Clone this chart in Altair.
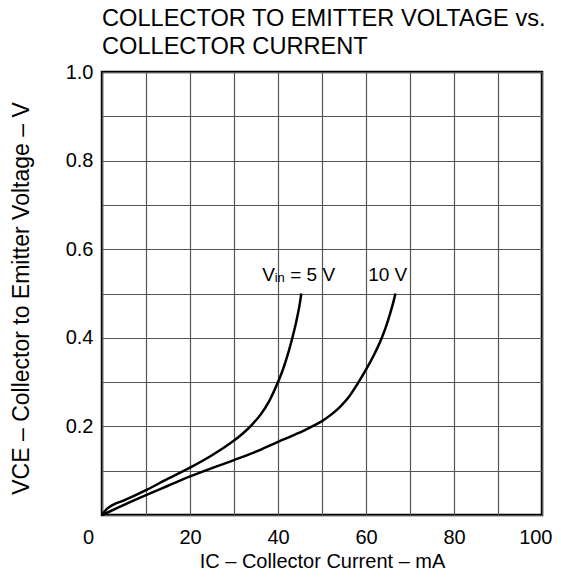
import altair as alt
import pandas as pd

# Curve data
ic_5v = [0, 1, 2.5, 5, 10, 15, 20, 25, 28, 30, 32, 34, 36, 38, 40, 41, 42, 43, 44, 45, 45.3]
vce_5v = [0, 0.013, 0.023, 0.033, 0.056, 0.082, 0.107, 0.135, 0.154, 0.168, 0.184, 0.203,
          0.226, 0.257, 0.30, 0.325, 0.355, 0.39, 0.43, 0.48, 0.50]
ic_10v = [0, 2, 5, 10, 15, 20, 25, 30, 35, 40, 44, 46, 48, 50, 52, 54, 56, 58, 60, 62,
          63.6, 64.5, 65.5, 66.2, 66.7]
vce_10v = [0, 0.009, 0.023, 0.045, 0.066, 0.087, 0.106, 0.124, 0.143, 0.165, 0.182, 0.191,
           0.201, 0.212, 0.226, 0.243, 0.265, 0.295, 0.328, 0.365, 0.40, 0.424, 0.455, 0.48, 0.50]

x_ticks = [0, 10, 20, 30, 40, 50, 60, 70, 80, 90, 100]
y_ticks = [0, 0.1, 0.2, 0.3, 0.4, 0.5, 0.6, 0.7, 0.8, 0.9, 1.0]

label_x = [36.4, 60.5]
label_y = [0.528, 0.528]

FONT = "Liberation Sans"

curves = pd.DataFrame(
    {"ic": ic_5v + ic_10v,
     "vce": vce_5v + vce_10v,
     "series": ["5 V"] * len(ic_5v) + ["10 V"] * len(ic_10v)}
)

xscale = alt.Scale(domain=[0, 100], nice=False, zero=False)
yscale = alt.Scale(domain=[0, 1], nice=False, zero=False)

xaxis = alt.Axis(
    values=x_ticks,
    title="IC – Collector Current – mA",
    labelExpr="datum.value % 20 === 0 ? datum.label : ''",
    labelOffset={"condition": [
        {"test": "datum.value === 0", "value": -14},
        {"test": "datum.value === 100", "value": 10},
    ], "value": 0},
    labelAlign={"condition": {"test": "datum.value === 100", "value": "right"}, "value": "center"},
    labelFlush=False, labelOverlap=False,
    ticks=False, tickSize=0, domain=False,
    grid=True, gridColor="#555555", gridWidth=1.2, gridOpacity=1,
    labelFont=FONT, labelFontSize=20, labelColor="black", labelPadding=12,
    titleFont=FONT, titleFontSize=20, titleFontWeight="normal", titleColor="black",
    titlePadding=4,
)
yaxis = alt.Axis(
    values=y_ticks,
    format=".1f",
    title="VCE – Collector to Emitter Voltage – V",
    labelExpr="(datum.value > 0.15 && round(datum.value * 10) % 2 === 0) ? datum.label : ''",
    labelFlush=False, labelOverlap=False,
    ticks=False, tickSize=0, domain=False,
    grid=True, gridColor="#555555", gridWidth=1.2, gridOpacity=1,
    labelFont=FONT, labelFontSize=20, labelColor="black", labelPadding=9,
    titleFont=FONT, titleFontSize=23, titleFontWeight="normal", titleColor="black",
    titlePadding=32, titleY=226,
)

lines = alt.Chart(curves).mark_line(
    color="black", strokeWidth=2.5, interpolate="monotone"
).encode(
    x=alt.X("ic:Q", scale=xscale, axis=xaxis),
    y=alt.Y("vce:Q", scale=yscale, axis=yaxis),
    detail="series:N",
    order="ic:Q",
)

lab = pd.DataFrame({"ic": label_x, "vce": label_y})
lab5 = lab.iloc[[0]]
lab10 = lab.iloc[[1]]

def txt(df, text, size, dx=0, dy=0):
    return alt.Chart(df).mark_text(
        text=text, font=FONT, fontSize=size, color="black",
        align="left", baseline="alphabetic", dx=dx, dy=dy,
    ).encode(
        x=alt.X("ic:Q", scale=xscale, axis=xaxis),
        y=alt.Y("vce:Q", scale=yscale, axis=yaxis),
    )

t_v = txt(lab5, "V", 19)
t_in = txt(lab5, "in", 13, dx=12.5, dy=1)
t_eq = txt(lab5, "= 5 V", 19, dx=28)
t_10 = txt(lab10, "10 V", 19)

chart = alt.layer(lines, t_v, t_in, t_eq, t_10).properties(
    width=440,
    height=443,
    title=alt.Title(
        text=["COLLECTOR TO EMITTER VOLTAGE vs.", "COLLECTOR CURRENT"],
        anchor="start", frame="group", font=FONT, fontSize=23.6,
        fontWeight="normal", color="black", lineHeight=28, offset=3,
    ),
    autosize=alt.AutoSizeParams(type="none"),
    padding={"left": 94, "top": 64, "right": 11, "bottom": 56},
).configure(
    background="white"
).configure_view(
    stroke="black", strokeWidth=2.5
)

chart.save("out.html", embed_options={"renderer": "svg", "actions": False})
